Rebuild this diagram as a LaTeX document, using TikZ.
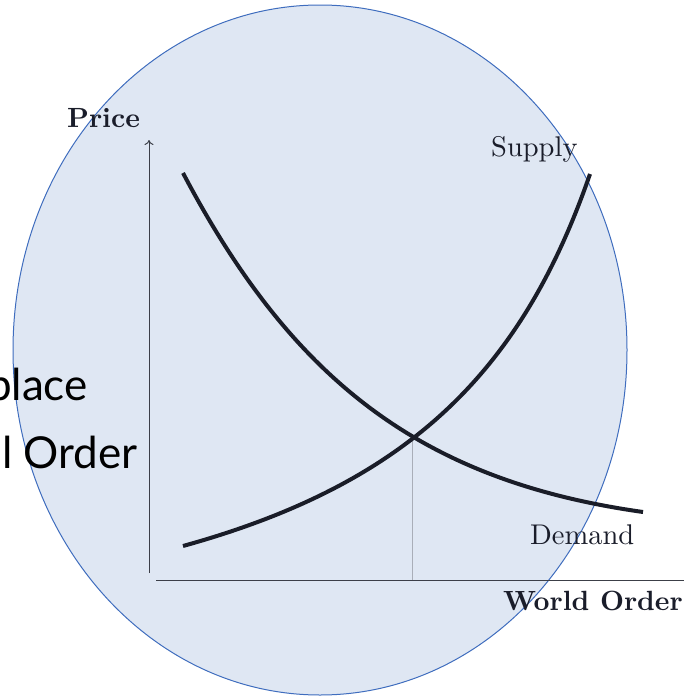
\documentclass[tikz,border=0pt]{standalone}
\usepackage{fontspec}
\usetikzlibrary{arrows.meta}
\newfontfamily\slidefont{Lato}
\newfontfamily\plotfont{lmroman10-regular.otf}[BoldFont=lmroman10-bold.otf]
\definecolor{bubblefill}{HTML}{DFE7F3}
\definecolor{bubbleedge}{HTML}{3F6DBE}
\definecolor{curvecol}{HTML}{1A1D28}
\definecolor{axiscol}{HTML}{3C3F48}
\definecolor{guidecol}{HTML}{A9AEB8}
\definecolor{labelcol}{HTML}{1A1D2A}
\begin{document}
\begin{tikzpicture}[x=1pt,y=-1pt,
  bubble/.style={fill=bubblefill, draw=bubbleedge, line width=1pt},
  curve/.style={draw=curvecol, line width=4pt},
  axis/.style={draw=axiscol, line width=1pt},
  guide/.style={draw=guidecol, line width=1pt},
  lbl/.style={text=labelcol, inner sep=0pt, font=\plotfont\fontsize{28.5}{30}\selectfont},
  boldlbl/.style={lbl, font=\plotfont\fontsize{27.8}{30}\selectfont\bfseries},
  slidetxt/.style={text=black, inner sep=0pt, font=\slidefont\fontsize{44}{48}\selectfont}]
\useasboundingbox (0,0) rectangle (684,696);

% background bubble
\draw[bubble] (320,350) ellipse [x radius=307pt, y radius=345pt];

% slide text running in from the left
\node[slidetxt, anchor=base east] (t1) at (88,400) {place};
\node[slidetxt, anchor=base east] (t2) at (138,468) {l Order};

% axes
\coordinate (ybot) at (149,573);
\coordinate (ytop) at (149,140);
\coordinate (xleft) at (156,580);
\coordinate (xright) at (684,580);
\draw[axis, -{To[length=5pt,width=9pt]}] (ybot) -- (ytop);
\draw[axis] (xleft) -- (xright);

% equilibrium and guide line
\coordinate (eq) at (412,440);
\draw[guide] (eq) -- (eq |- xleft);

% supply and demand curves
\coordinate (s0) at (183,546);
\coordinate (s1) at (590,174);
\coordinate (d0) at (183,173);
\coordinate (d1) at (643,512);
\draw[curve] (s0) .. controls (403,485) and (520,377) .. (s1);
\draw[curve] (d0) .. controls (293,382) and (423,481) .. (d1);

% labels
\node[boldlbl, anchor=base west] (price) at (67,127) {Price};
\node[lbl, anchor=base west] (supply) at (491,156) {Supply};
\node[lbl, anchor=base west] (demand) at (530,544) {Demand};
\node[boldlbl, anchor=base west] (world) at (503,610) {World Order};
\end{tikzpicture}
\end{document}
